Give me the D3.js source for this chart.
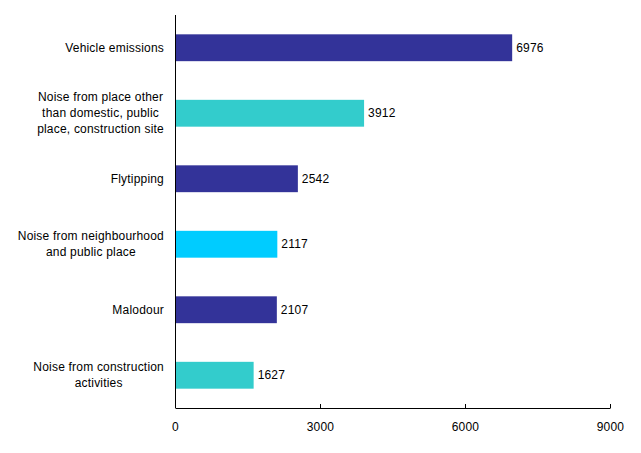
<!DOCTYPE html>
<html><head><meta charset="utf-8">
<script src="https://cdn.jsdelivr.net/npm/d3@7"></script>
<style>body{margin:0;background:#fff}text{font-family:"Liberation Sans",Arial,sans-serif;font-size:12px;fill:#000;letter-spacing:0.2px}</style>
</head><body><svg id="c" width="641" height="453"></svg>
<script>
const categories = [
  ["Vehicle emissions"],
  ["Noise from place other", "than domestic, public", "place, construction site"],
  ["Flytipping"],
  ["Noise from neighbourhood", "and public place"],
  ["Malodour"],
  ["Noise from construction", "activities"]
];
const values = [6976, 3912, 2542, 2117, 2107, 1627];
const colors = ["#333399", "#33CCCC", "#333399", "#00CCFF", "#333399", "#33CCCC"];
const xTicks = [0, 3000, 6000, 9000];

(function () {
const svg = d3.select("#c");
const mLeft = 175, mRight = 610, mTop = 15, mBottom = 408;
const x = d3.scaleLinear().domain([0, 9000]).range([mLeft, mRight]);
const y = d3.scaleBand().domain(d3.range(values.length)).range([mTop, mBottom]).paddingInner(0.59).paddingOuter(0.295);

svg.selectAll("rect.bar").data(values).join("rect")
  .attr("class", "bar")
  .attr("x", x(0)).attr("y", (d, i) => y(i))
  .attr("width", d => x(d) - x(0)).attr("height", y.bandwidth())
  .attr("fill", (d, i) => colors[i]);

svg.selectAll("text.val").data(values).join("text")
  .attr("class", "val")
  .attr("x", d => x(d) + 4).attr("y", (d, i) => y(i) + y.bandwidth() / 2)
  .attr("dy", "0.35em").text(d => d);

categories.forEach((lines, i) => {
  const cy = y(i) + y.bandwidth() / 2;
  const t = svg.append("text").attr("text-anchor", "middle");
  const spans = lines.map((ln, j) => t.append("tspan").attr("y", cy + (j - (lines.length - 1) / 2) * 16).attr("dy", "0.35em").text(ln));
  const maxW = d3.max(spans, s => s.node().getComputedTextLength());
  spans.forEach(s => s.attr("x", 164 - maxW / 2));
});

const xAxis = d3.axisBottom(x).tickValues(xTicks).tickSizeInner(-4).tickSizeOuter(0).tickPadding(14).tickFormat(d3.format("d"));
const g = svg.append("g").attr("transform", `translate(0,${mBottom})`).call(xAxis);
g.select(".domain").attr("stroke", "#000");
g.selectAll(".tick line").attr("stroke", "#000");
g.selectAll(".tick text").style("font-size", "12px").attr("font-family", null);

svg.append("line").attr("x1", mLeft + 0.5).attr("x2", mLeft + 0.5).attr("y1", mTop).attr("y2", mBottom).attr("stroke", "#000");
})();
</script></body></html>
